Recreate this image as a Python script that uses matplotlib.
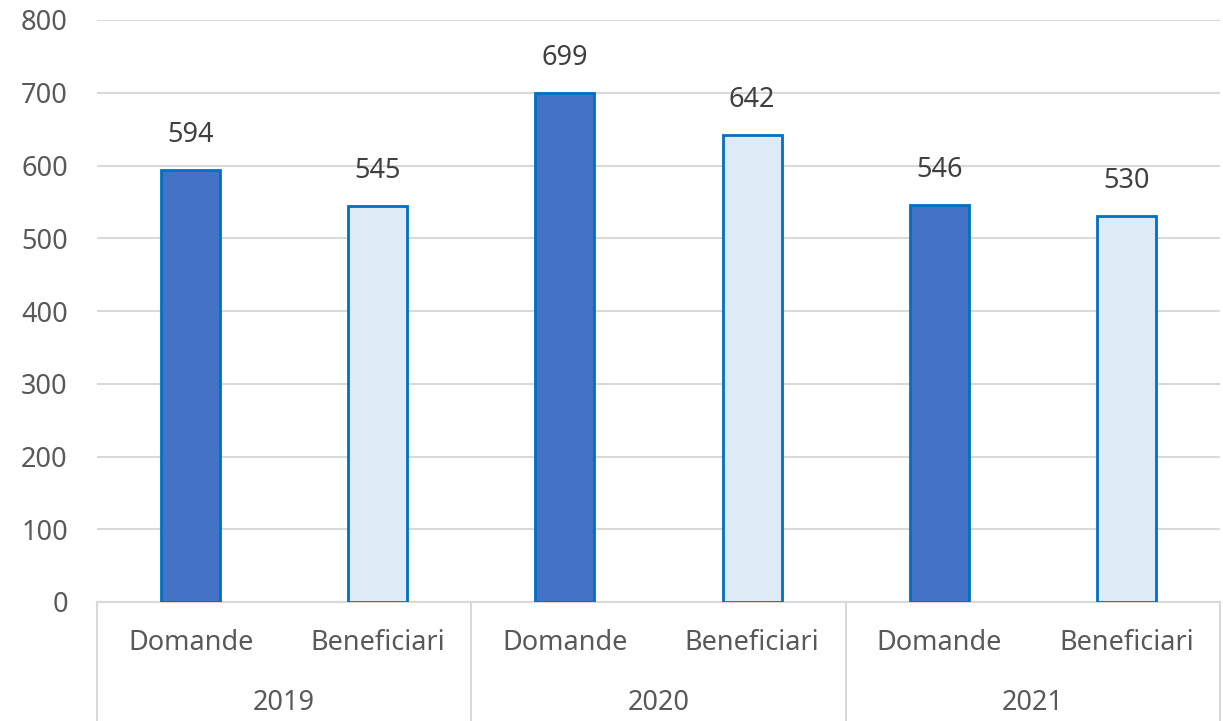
import matplotlib
matplotlib.use("Agg")
import matplotlib.pyplot as plt
import matplotlib.transforms as mtransforms

years = ["2019", "2020", "2021"]
subcats = ["Domande", "Beneficiari"]
values = [594, 545, 699, 642, 546, 530]
yticks = [0, 100, 200, 300, 400, 500, 600, 700, 800]

plt.rcParams['font.family'] = ['Noto Sans', 'DejaVu Sans']
FS = 19.5

fig = plt.figure(figsize=(12.23, 7.21), dpi=100)
ax = fig.add_axes([97/1223, 119/721, (1220-97)/1223, (602-20)/721])

fills = ["#4472C4", "#DEEBF7"]
x = list(range(len(values)))
colors = [fills[i % 2] for i in x]
ax.bar(x, values, width=0.315, color=colors, edgecolor="#0070C0", linewidth=2, zorder=3)

for xi, v in zip(x, values):
    ax.annotate(str(v), (xi, v), xytext=(0, 21), textcoords="offset pixels",
                ha="center", va="bottom", fontsize=FS, color="#404040")

ax.set_xlim(-0.5, 5.5)
ax.set_ylim(0, 800)
ax.set_yticks(yticks)
ax.tick_params(axis="y", length=0, pad=21, labelsize=FS, labelcolor="#595959")
ax.set_xticks([])
ax.yaxis.grid(True, color="#D9D9D9", linewidth=1.5, zorder=0)
ax.set_axisbelow(True)
for s in ["left", "right", "top"]:
    ax.spines[s].set_visible(False)
ax.spines["bottom"].set_color("#D9D9D9")
ax.spines["bottom"].set_linewidth(1.5)

trans = mtransforms.blended_transform_factory(ax.transData, ax.transAxes)
for i, xi in enumerate(x):
    ax.text(xi, -0.0704, subcats[i % 2], transform=trans, ha="center", va="center",
            fontsize=FS, color="#595959")
for g, yr in enumerate(years):
    ax.text(2 * g + 0.5, -0.1735, yr, transform=trans, ha="center", va="center",
            fontsize=FS, color="#595959")
for sx in [-0.5, 1.5, 3.5, 5.5]:
    ax.plot([sx, sx], [0, -0.21], transform=trans, color="#D9D9D9", linewidth=1.5,
            clip_on=False)

fig.savefig("out.png", dpi=100)
